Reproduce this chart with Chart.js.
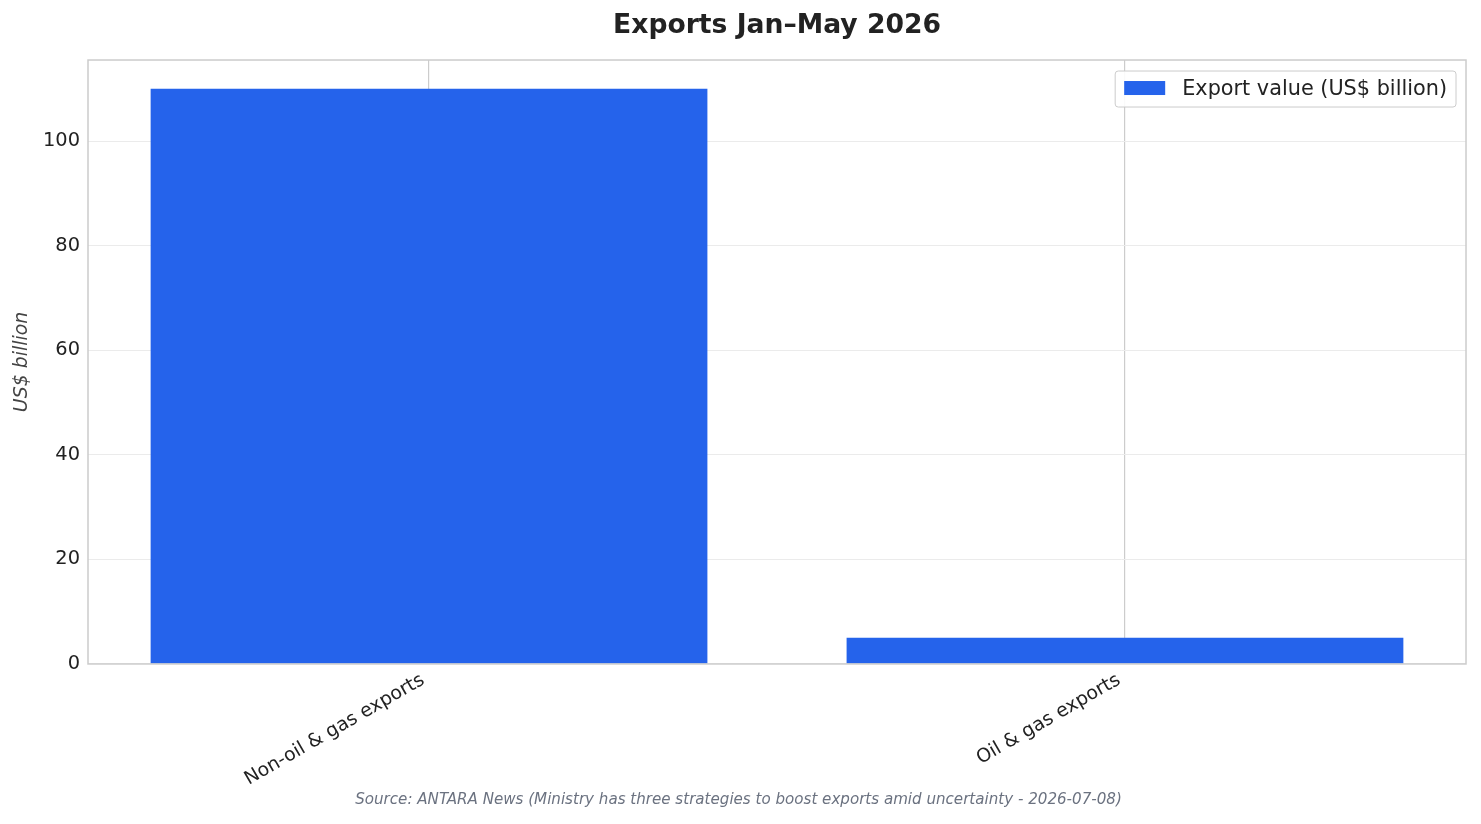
<!DOCTYPE html>
<html>
<head>
<meta charset="utf-8">
<script src="https://cdn.jsdelivr.net/npm/chart.js@4.4.1/dist/chart.umd.min.js"></script>
<style>
  html, body { margin: 0; padding: 0; background: #fff; }
  #wrap { width: 1481px; height: 824px; }
</style>
</head>
<body>
<div id="wrap"><canvas id="chart"></canvas></div>
<script>
// datos
const categorias = ['Non-oil & gas exports', 'Oil & gas exports'];
const valores = [110.0, 5.0];
const serieNombre = 'Export value (US$ billion)';
const titulo = 'Exports Jan\u2013May 2026';
const fuente = 'Source: ANTARA News (Ministry has three strategies to boost exports amid uncertainty - 2026-07-08)';
const yTicks = [0, 20, 40, 60, 80, 100];

const FONT = "'DejaVu Sans', sans-serif";

// borde completo del area + leyenda dentro, arriba a la derecha
const marcoYLeyenda = {
    id: 'marcoYLeyenda',
    afterDatasetsDraw(chart) {
        const { ctx, chartArea: a } = chart;
        ctx.save();
        ctx.strokeStyle = '#cccccc';
        ctx.lineWidth = 1.5;
        ctx.strokeRect(a.left, a.top, a.right - a.left, a.bottom - a.top);

        ctx.font = '20.8px ' + FONT;
        const txt = chart.data.datasets[0].label;
        const tw = ctx.measureText(txt).width;
        const h = 36, sw = 41;
        const w = 9 + sw + 17 + tw + 9;
        const x = a.right - 10 - w, y = a.top + 11;
        ctx.fillStyle = 'rgba(255,255,255,0.9)';
        ctx.strokeStyle = '#cccccc';
        ctx.lineWidth = 1;
        ctx.beginPath();
        ctx.roundRect(x, y, w, h, 3);
        ctx.fill();
        ctx.stroke();
        ctx.fillStyle = chart.data.datasets[0].backgroundColor;
        ctx.fillRect(x + 9, y + 10, sw, 14);
        ctx.fillStyle = '#222222';
        ctx.textBaseline = 'middle';
        ctx.fillText(txt, x + 9 + sw + 17, y + h / 2 + 1);
        ctx.restore();
    }
};

new Chart(document.getElementById('chart'), {
    type: 'bar',
    data: {
        datasets: [{
            label: serieNombre,
            data: valores.map((v, i) => ({ x: i, y: v })),
            backgroundColor: '#2563eb', barPercentage: 0.8, categoryPercentage: 1.0
        }]
    },
    options: {
        responsive: true, maintainAspectRatio: false, animation: false,
        layout: { padding: { left: 11, right: 15, top: 0, bottom: 0 } },
        plugins: {
            legend: { display: false },
            tooltip: { enabled: false },
            title: {
                display: true, text: titulo, fullSize: false, color: '#222222',
                font: { family: FONT, size: 26.6, weight: 'bold' },
                padding: { top: 10, bottom: 18.1 }
            },
            subtitle: {
                display: true, text: fuente, position: 'bottom', color: '#6b7280',
                font: { family: FONT, size: 15.1, style: 'italic' },
                padding: { top: 0, bottom: 14.9 }
            }
        },
        scales: {
            x: {
                type: 'linear', min: -0.49, max: 1.49, offset: false,
                afterBuildTicks(s) { s.ticks = categorias.map((c, i) => ({ value: i })); },
                grid: { offset: false, color: '#cccccc', lineWidth: 1.2, drawTicks: false },
                border: { display: false },
                ticks: {
                    color: '#222222', font: { family: FONT, size: 18.9 },
                    maxRotation: 30, minRotation: 30, padding: 5, labelOffset: -6,
                    callback: v => categorias[v]
                },
                afterFit(s) { s.height = 127; }
            },
            y: {
                min: 0, max: 115.5,
                afterBuildTicks(s) { s.ticks = yTicks.map(v => ({ value: v })); },
                grid: { color: '#ebebeb', lineWidth: 1, drawTicks: false },
                border: { display: false },
                ticks: { color: '#222222', font: { family: FONT, size: 19.4 }, padding: 8 },
                title: {
                    display: true, text: 'US$ billion', color: '#444444',
                    font: { family: FONT, size: 18.9, style: 'italic' },
                    padding: { top: 0, bottom: 0 }
                },
                afterFit(s) { s.width = 77; }
            }
        }
    },
    plugins: [marcoYLeyenda]
});
</script>
</body>
</html>
